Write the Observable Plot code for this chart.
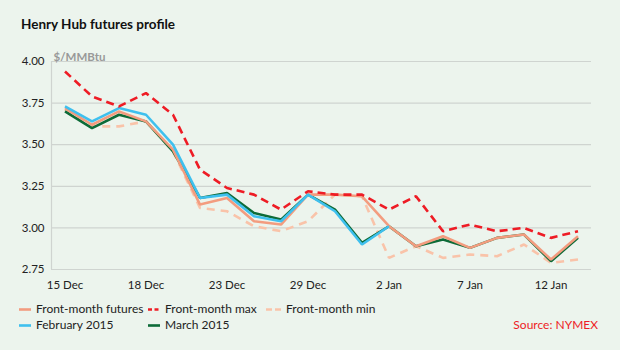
<!DOCTYPE html>
<html>
<head>
<meta charset="utf-8">
<script src="https://cdn.jsdelivr.net/npm/d3@7"></script>
<script src="https://cdn.jsdelivr.net/npm/@observablehq/plot@0.6"></script>
<style>
  html, body { margin: 0; padding: 0; background: #ecf4ed; }
  #wrap { position: relative; width: 620px; height: 350px; background: #ecf4ed; font-family: Lato, "Noto Sans", sans-serif; overflow: hidden; }
  #title { position: absolute; left: 21px; top: 16px; font-size: 13.5px; font-weight: bold; color: #111; }
  #chart { position: absolute; left: 0; top: 40px; }
  .leg { position: absolute; font-size: 12px; line-height: 16px; color: #222; white-space: nowrap; }
  .sw { position: absolute; top: 0; }
  #source { position: absolute; right: 22px; top: 317px; font-size: 12px; line-height: 16px; color: #ee1c25; }
</style>
</head>
<body>
<div id="wrap">
  <div id="title">Henry Hub futures profile</div>
  <div id="chart"></div>
  <div id="legend"></div>
  <div id="source">Source: NYMEX</div>
</div>
<script>
const dates = ["15 Dec","16 Dec","17 Dec","18 Dec","19 Dec","22 Dec","23 Dec","24 Dec","26 Dec","29 Dec","30 Dec","31 Dec","2 Jan","5 Jan","6 Jan","7 Jan","8 Jan","9 Jan","12 Jan","13 Jan"];
const tickIndex = [0, 3, 6, 9, 12, 15, 18];
const yTicks = [2.75, 3.00, 3.25, 3.50, 3.75, 4.00];

const frontMonth = [3.72,3.62,3.70,3.64,3.47,3.14,3.18,3.04,3.02,3.20,3.20,3.19,3.01,2.89,2.95,2.88,2.94,2.96,2.81,2.95];
const frontMax   = [3.94,3.79,3.73,3.81,3.68,3.35,3.24,3.20,3.11,3.22,3.20,3.20,3.11,3.19,2.98,3.02,2.98,3.00,2.94,2.98];
const frontMin   = [3.71,3.61,3.61,3.64,3.46,3.12,3.10,3.01,2.98,3.04,3.20,3.19,2.82,2.89,2.82,2.84,2.83,2.90,2.79,2.81];
const feb2015    = [3.73,3.64,3.72,3.68,3.50,3.18,3.20,3.07,3.04,3.20,3.10,2.90,3.01];
const mar2015    = [3.70,3.60,3.68,3.64,3.46,3.18,3.21,3.09,3.05,3.20,3.11,2.91,3.01,2.89,2.93,2.88,2.94,2.96,2.80,2.94];

const seriesNames = ["Front-month futures","Front-month max","Front-month min","February 2015","March 2015"];
const colors = { "Front-month futures": "#f39c7f", "Front-month max": "#ee1c25", "Front-month min": "#f9c3a9", "February 2015": "#3fc0ee", "March 2015": "#0d6b38" };
const dashes = { "Front-month futures": null, "Front-month max": "8,5", "Front-month min": "8,6", "February 2015": null, "March 2015": null };

const toRows = arr => arr.map((v, i) => ({ i, v }));

const lineOpts = name => ({ x: "i", y: "v", stroke: colors[name], strokeWidth: 2.6, strokeDasharray: dashes[name], strokeLinejoin: "miter", strokeLinecap: "butt" });

const plot = Plot.plot({
  width: 620,
  height: 265,
  marginLeft: 51,
  marginRight: 29,
  marginTop: 21,
  marginBottom: 36,
  style: { background: "transparent", fontFamily: "Lato, 'Noto Sans', sans-serif", fontSize: "11.5px", color: "#222" },
  x: { type: "linear", domain: [-0.5, 19.5] },
  y: { domain: [2.75, 4.00] },
  marks: [
    Plot.gridY(yTicks, { stroke: "#cfd4d0", strokeOpacity: 1, strokeWidth: 1.2 }),
    Plot.ruleX([-0.5], { y1: 2.75, y2: 4.00, stroke: "#cfd4d0", strokeWidth: 1.2 }),
    Plot.axisY(yTicks, { tickSize: 0, tickPadding: 7, tickFormat: d => d.toFixed(2), label: null, fill: "#222" }),
    Plot.axisX(tickIndex, { tickSize: 0, tickPadding: 11, tickFormat: i => dates[i], label: null, fill: "#222" }),
    Plot.line(toRows(frontMin), lineOpts("Front-month min")),
    Plot.line(toRows(mar2015), lineOpts("March 2015")),
    Plot.line(toRows(frontMonth), lineOpts("Front-month futures")),
    Plot.line(toRows(feb2015), lineOpts("February 2015")),
    Plot.line(toRows(frontMax), lineOpts("Front-month max")),
    Plot.text(["$/MMBtu"], { frameAnchor: "top-left", dx: 2, dy: -9, fill: "#999", fontWeight: "bold", fontSize: 11.5, textAnchor: "start" })
  ]
});
document.getElementById("chart").appendChild(plot);

// legend
const legendPos = [
  { name: "Front-month futures", x: 19, y: 301 },
  { name: "Front-month max", x: 148, y: 301 },
  { name: "Front-month min", x: 266, y: 301 },
  { name: "February 2015", x: 19, y: 317 },
  { name: "March 2015", x: 148, y: 317 }
];
const legend = document.getElementById("legend");
for (const p of legendPos) {
  const d = document.createElement("div");
  d.className = "leg";
  d.style.left = p.x + "px";
  d.style.top = p.y + "px";
  const dash = p.name === "Front-month max" ? "4,2.5" : (p.name === "Front-month min" ? "6,3" : "none");
  const w = p.name === "Front-month min" ? 15 : 12;
  d.innerHTML = `<svg class="sw" width="${w}" height="16" style="left:0"><line x1="0" x2="${w}" y1="8.5" y2="8.5" stroke="${colors[p.name]}" stroke-width="2.6" stroke-dasharray="${dash}"/></svg><span style="position:absolute;left:${w === 15 ? 20 : 17}px;top:0">${p.name}</span>`;
  legend.appendChild(d);
}
</script>
</body>
</html>
